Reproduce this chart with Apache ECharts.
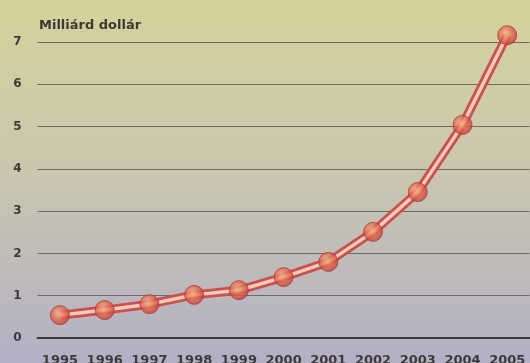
<!DOCTYPE html>
<html>
<head>
<meta charset="utf-8">
<script src="https://cdn.jsdelivr.net/npm/echarts@6/dist/echarts.min.js"></script>
<style>
html,body{margin:0;padding:0;}
#c{width:530px;height:363px;}
</style>
</head>
<body>
<div id="c"></div>
<script>
const years = ['1995','1996','1997','1998','1999','2000','2001','2002','2003','2004','2005'];
const values = [0.54, 0.66, 0.80, 1.02, 1.13, 1.44, 1.80, 2.51, 3.45, 5.04, 7.16];
const unitLabel = 'Milliárd dollár';

const chart = echarts.init(document.getElementById('c'));
const font = 'DejaVu Sans';
chart.setOption({
  animation: false,
  backgroundColor: {
    type: 'linear', x: 0, y: 0, x2: 0, y2: 1,
    colorStops: [
      {offset: 0, color: '#d6d29a'},
      {offset: 0.45, color: '#cbc7ae'},
      {offset: 1, color: '#b3b0c6'}
    ]
  },
  title: {
    text: unitLabel,
    left: 34, top: 14,
    textStyle: {fontFamily: font, fontSize: 13, fontWeight: 'bold', color: '#3c3936'}
  },
  grid: {left: 37.6, right: 0.4, top: 42, bottom: 25, containLabel: false, outerBoundsMode: 'none'},
  xAxis: {
    type: 'category',
    data: years,
    boundaryGap: true,
    axisLine: {show: true, lineStyle: {color: '#3a3936', width: 2}},
    axisTick: {show: false},
    axisLabel: {interval: 0, hideOverlap: false, margin: 16, fontFamily: font, fontSize: 13, fontWeight: 'bold', color: '#3e3a3c'}
  },
  yAxis: {
    type: 'value',
    min: 0, max: 7, interval: 1,
    axisLine: {show: false},
    axisTick: {show: false},
    splitLine: {lineStyle: {color: '#6c6962', width: 1.2}},
    axisLabel: {margin: 16, fontFamily: font, fontSize: 12, fontWeight: 'bold', color: '#3e3a3a', padding: [0, 0, 9, 0]}
  },
  series: [
    {
      type: 'line', data: values, showSymbol: false, clip: false, z: 2,
      lineStyle: {color: '#c94f50', width: 9}
    },
    {
      type: 'line', data: values, showSymbol: false, clip: false, z: 3,
      lineStyle: {color: '#f2cbb6', width: 3.5}
    },
    {
      type: 'scatter', data: values, clip: false, z: 4,
      symbol: 'circle', symbolSize: 19,
      itemStyle: {
        color: {
          type: 'radial', x: 0.42, y: 0.4, r: 0.62,
          colorStops: [
            {offset: 0, color: '#f6b890'},
            {offset: 0.55, color: '#e06a4c'},
            {offset: 1, color: '#b83c40'}
          ]
        },
        borderColor: '#b2373f', borderWidth: 1
      }
    }
  ]
});
</script>
</body>
</html>
